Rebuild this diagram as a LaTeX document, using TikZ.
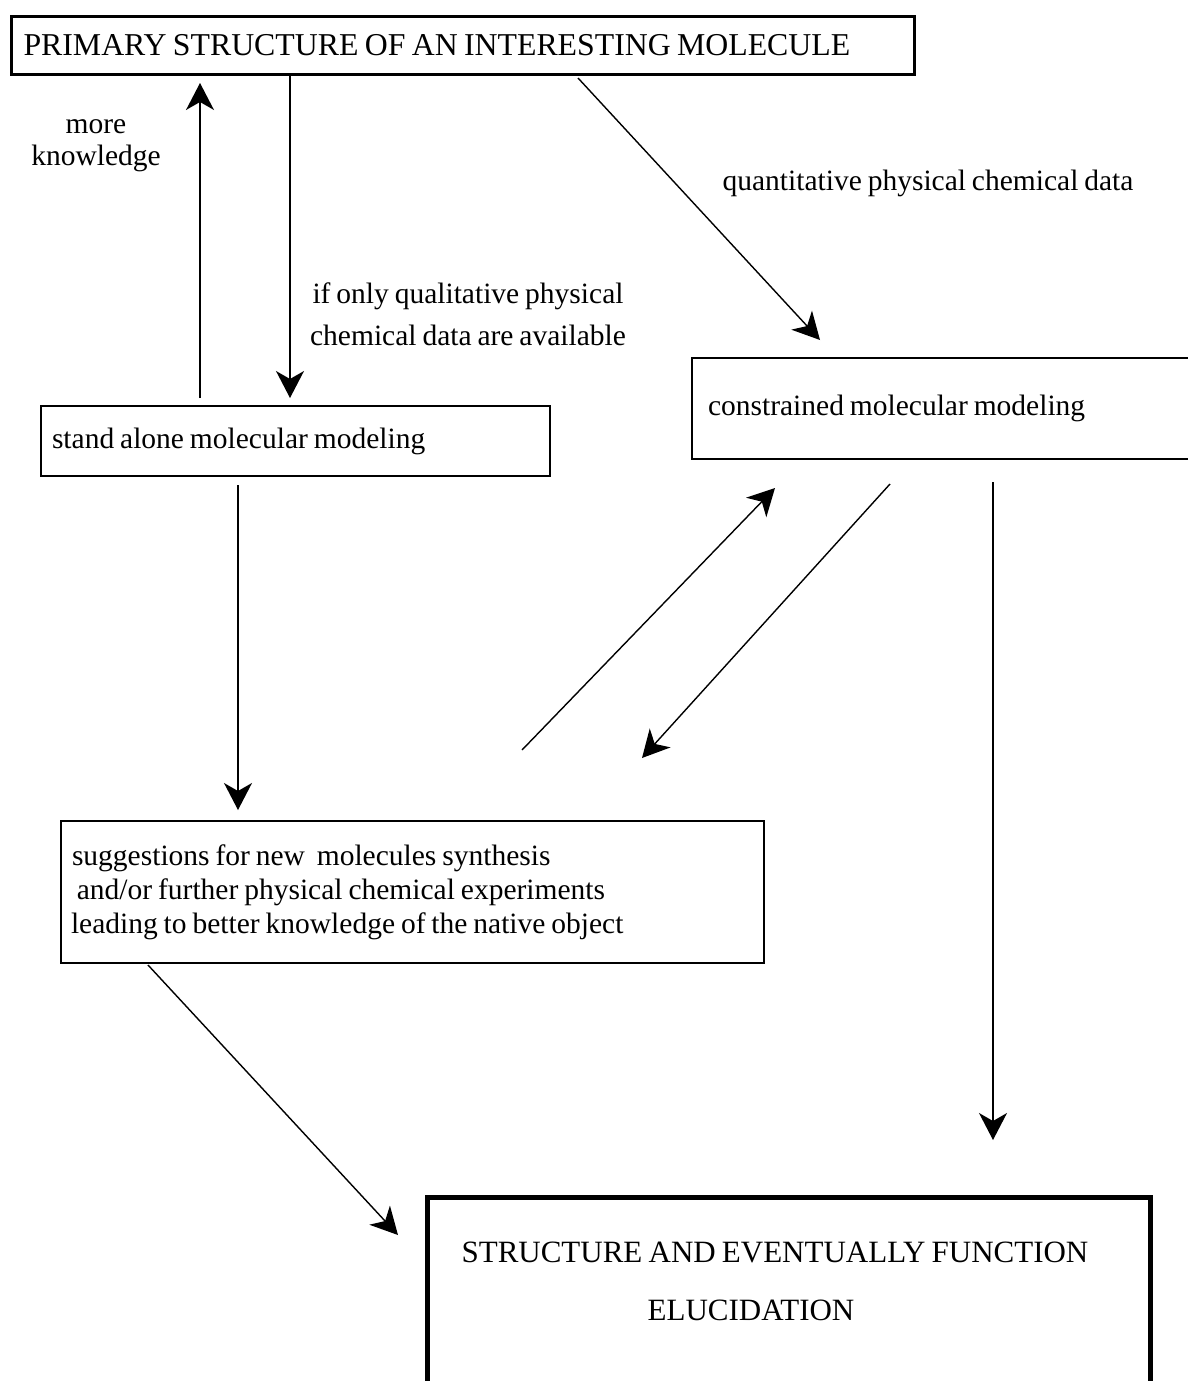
\documentclass[tikz,border=0pt]{standalone}
\usepackage{fontspec}
\setmainfont{Liberation Serif}[WordSpace=0.8]
\usetikzlibrary{arrows.meta}
\begin{document}
\begin{tikzpicture}[x=1pt,y=-1pt,
  every node/.style={font=\fontsize{29.5}{34}\selectfont},
  caps/.style={font=\fontsize{31}{36}\selectfont},
  box/.style={draw, line width=2pt, inner ysep=0pt, anchor=north west, align=flush left},
  lbl/.style={inner sep=0pt, align=center},
  arr/.style={line width=1.4pt, -{Stealth[length=27pt,width=28pt,inset=8pt]}}]
\useasboundingbox (0,0) rectangle (1188,1381);

% boxes
\node[box, font=\fontsize{31.8}{36}\selectfont, line width=3pt, minimum width=903pt, minimum height=58pt, text width=879pt, inner xsep=12pt]
  (top) at (10,15) {PRIMARY STRUCTURE OF AN INTERESTING MOLECULE};
\node[box, minimum width=509pt, minimum height=70pt, text width=487pt, inner xsep=11pt]
  (alone) at (40,405) {stand alone molecular modeling};
\node[box, minimum width=530pt, minimum height=101pt, text width=498pt, inner xsep=16pt]
  (constr) at (691,357) {constrained molecular modeling};
\node[box, minimum width=703pt, minimum height=142pt, text width=683pt, inner xsep=10pt]
  (sugg) at (60,820) {\hspace*{1pt}suggestions for new\ \ molecules synthesis\\
  \ and/or further physical chemical experiments\\
  leading to better knowledge of the native object};
\node[box, line width=5pt, minimum width=723pt, minimum height=230pt]
  (elu) at (425,1195) {};
\node[lbl, caps] (elu1) at (775,1252) {STRUCTURE AND EVENTUALLY FUNCTION};
\node[lbl, caps] (elu2) at (751,1310) {ELUCIDATION};

% labels
\node[lbl, font=\fontsize{29.5}{32}\selectfont] (more) at (96,146) {more\\knowledge};
\node[lbl, font=\fontsize{29.5}{42}\selectfont] (qual) at (468,314) {if only qualitative physical\\chemical data are available};
\node[lbl] (quant) at (928,183) {quantitative physical chemical data};

% connector end points
\coordinate (upx) at (200,0);
\coordinate (dnx) at (290,0);
\coordinate (vx) at (238,0);
\coordinate (rx) at (993,0);
\coordinate (q1) at (578,78);
\coordinate (q2) at (820,340);
\coordinate (c1) at (522,750);
\coordinate (c2) at (775,488);
\coordinate (c3) at (890,484);
\coordinate (c4) at (642,758);
\coordinate (e1) at (148,965);
\coordinate (e2) at (398,1235);
\coordinate (rtip) at (993,1140);

% connectors
\draw[arr, shorten <=7pt, shorten >=7pt] (alone.north -| upx) -- (top.south -| upx);
\draw[arr, shorten >=7pt] (top.south -| dnx) -- (alone.north -| dnx);
\draw[arr] (q1) -- (q2);
\draw[arr, shorten <=8pt, shorten >=10pt] (alone.south -| vx) -- (sugg.north -| vx);
\draw[arr] (c1) -- (c2);
\draw[arr] (c3) -- (c4);
\draw[arr, shorten <=22pt] (constr.south -| rx) -- (rtip);
\draw[arr] (e1) -- (e2);
\end{tikzpicture}
\end{document}
